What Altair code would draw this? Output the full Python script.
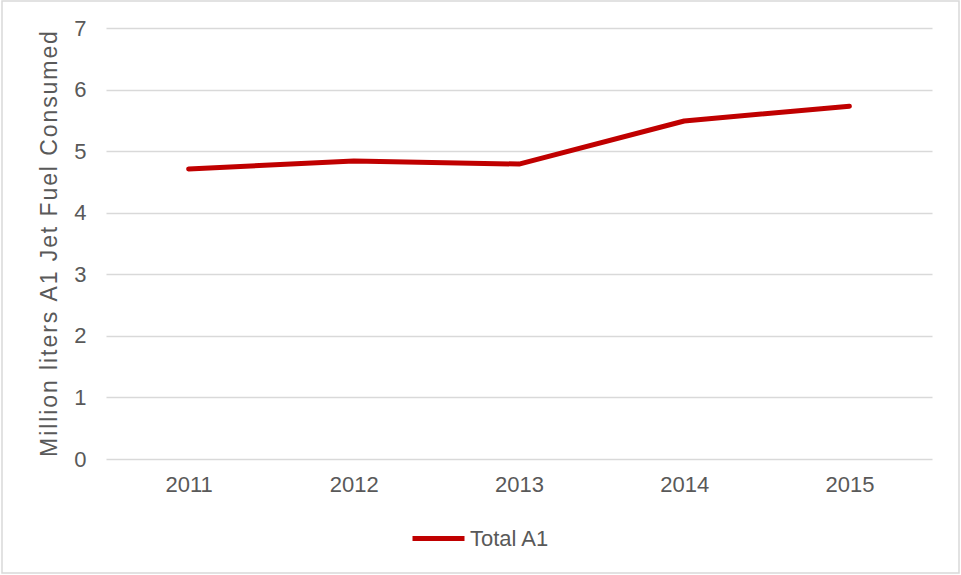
import altair as alt
import pandas as pd

years = ["2011", "2012", "2013", "2014", "2015"]
total_a1 = [4.71, 4.84, 4.79, 5.49, 5.73]
series = ["Total A1"] * len(years)

df = pd.DataFrame({"Year": years, "Fuel": total_a1, "Series": series})

W, H = 826, 431
FONT = "Liberation Sans"
GREY = "#595959"

# axis title is drawn slightly letter-spaced (hair space between glyphs)
SP = "\u200a"
y_title = SP.join("Million liters A1 Jet Fuel Consumed")

line = alt.Chart(df).mark_line(strokeWidth=5, strokeCap="round", strokeJoin="round").encode(
    x=alt.X("Year:O", sort=years,
            scale=alt.Scale(type="point", padding=0.5),
            axis=alt.Axis(title=None, labelAngle=0, ticks=False, domain=False,
                          labelFontSize=22, labelColor=GREY, labelPadding=15,
                          labelFont=FONT)),
    y=alt.Y("Fuel:Q", scale=alt.Scale(domain=[0, 7], nice=False),
            axis=alt.Axis(title=y_title, values=list(range(8)),
                          ticks=False, domain=False, grid=True, gridColor="#d9d9d9",
                          gridWidth=1.5, labelFontSize=22, labelColor=GREY,
                          labelPadding=20, titleFontSize=23, titleColor=GREY,
                          titleFontWeight="normal", titlePadding=12,
                          labelFont=FONT, titleFont=FONT)),
    color=alt.Color("Series:N", scale=alt.Scale(range=["#c00000"]),
                    legend=alt.Legend(title=None, orient="none", legendX=304, legendY=482,
                                      symbolType="stroke", symbolStrokeWidth=5,
                                      symbolSize=2704, labelFontSize=22,
                                      labelColor=GREY, labelFont=FONT,
                                      labelOffset=3)),
)

# thin frame round the whole figure
frame = alt.Chart(pd.DataFrame({"k": [0]})).mark_rect(
    fill=None, stroke="#d9d9d9", strokeWidth=1.5, clip=False
).encode(
    x=alt.value(-104), x2=alt.value(W + 27),
    y=alt.value(-27), y2=alt.value(H + 114),
)

chart = alt.layer(frame, line).properties(
    width=W, height=H,
    padding={"left": 106, "top": 28, "right": 29, "bottom": 116},
    autosize=alt.AutoSizeParams(type="none"),
    background="white",
).configure_view(stroke=None)

chart.save("out.html", embed_options={"renderer": "svg", "actions": False})
